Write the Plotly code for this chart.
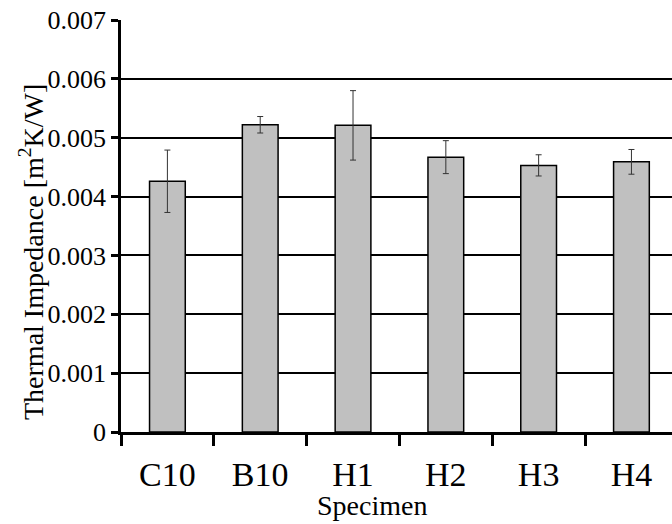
import plotly.graph_objects as go

categories = ["C10", "B10", "H1", "H2", "H3", "H4"]
values = [0.00426, 0.00522, 0.00521, 0.00467, 0.00453, 0.00459]
errors = [0.00053, 0.00014, 0.00059, 0.00028, 0.00018, 0.00021]
ytickvals = [0, 0.001, 0.002, 0.003, 0.004, 0.005, 0.006, 0.007]
yticktext = ["0", "0.001", "0.002", "0.003", "0.004", "0.005", "0.006", "0.007"]
x_title = "Specimen"
y_title = "Thermal Impedance [m<sup>2</sup>K/W]"

serif = "Liberation Serif, Times New Roman, serif"

fig = go.Figure(go.Bar(
    x=categories, y=values,
    width=0.385,
    marker=dict(color="#c0c0c0", line=dict(color="black", width=1.5)),
    error_y=dict(type="data", array=errors, visible=True, color="#333333", thickness=1, width=3),
))

fig.update_layout(
    width=672, height=524,
    margin=dict(l=121, r=0, t=20, b=92),
    plot_bgcolor="white", paper_bgcolor="white",
    showlegend=False,
    font=dict(family=serif, color="black"),
)
fig.update_xaxes(
    type="category",
    range=[-0.5, 5.437],
    showline=True, linecolor="black", linewidth=3,
    ticks="outside", tickson="boundaries", ticklen=11, tickwidth=3, tickcolor="black",
    tickfont=dict(size=34, family=serif, color="black"),
    ticklabelstandoff=10,
    showgrid=False,
)
fig.update_yaxes(
    range=[0, 0.007],
    tickvals=ytickvals, ticktext=yticktext,
    showline=True, linecolor="black", linewidth=2.5,
    ticks="outside", ticklen=7, tickwidth=2.5, tickcolor="black",
    tickfont=dict(size=26, family=serif, color="black"),
    showgrid=True, gridcolor="black", gridwidth=2,
    zeroline=False,
)

# axis titles placed as annotations (pixel positions converted to paper coords)
plot_left, plot_w = 121, 551
plot_top, plot_h = 20, 412
fig.add_annotation(
    text=x_title, showarrow=False,
    xref="paper", yref="paper",
    x=(372 - plot_left) / plot_w, y=(plot_top + plot_h - 506) / plot_h,
    xanchor="center", yanchor="middle",
    font=dict(size=28, family=serif, color="black"),
)
fig.add_annotation(
    text=y_title, showarrow=False, textangle=-90,
    xref="paper", yref="paper",
    x=(31 - plot_left) / plot_w, y=(plot_top + plot_h - 252) / plot_h,
    xanchor="center", yanchor="middle",
    font=dict(size=28, family=serif, color="black"),
)

fig.write_html("out.html")
